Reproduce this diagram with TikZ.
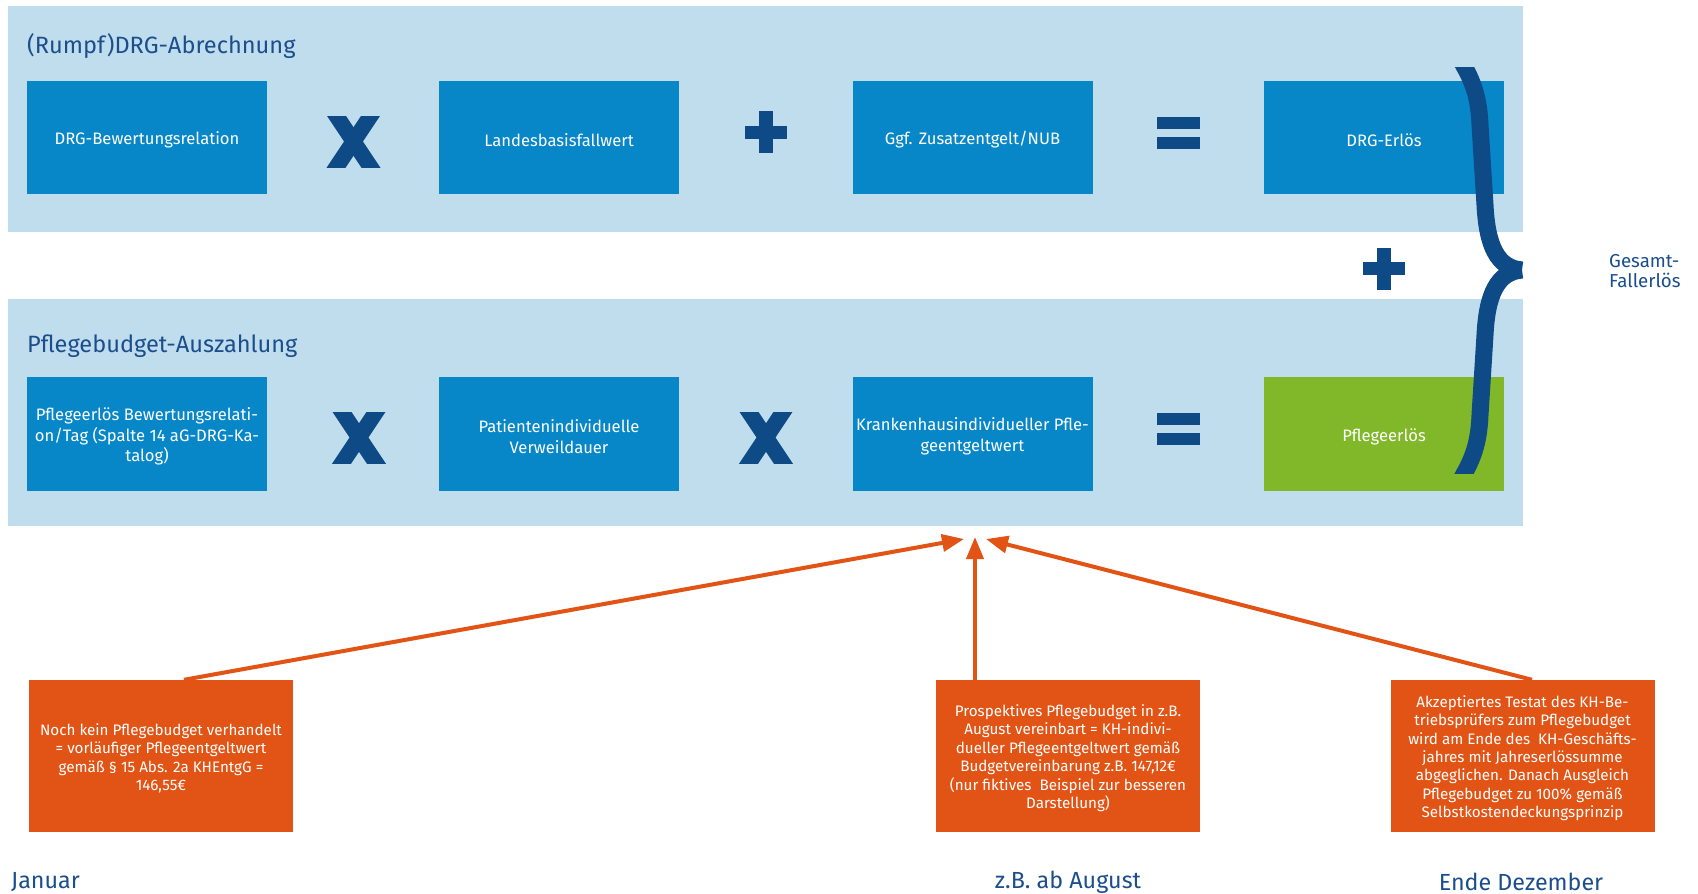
\documentclass[tikz,border=0pt]{standalone}
\usepackage{fontspec}
\setmainfont{Fira Sans}
\usetikzlibrary{arrows.meta}
\definecolor{band}{HTML}{C0DDED}
\definecolor{boxblue}{HTML}{0787C8}
\definecolor{navy}{HTML}{0E4A86}
\definecolor{leaf}{HTML}{81B82A}
\definecolor{rust}{HTML}{E25415}
\definecolor{titlecol}{HTML}{1B4E8C}
\begin{document}
\begin{tikzpicture}[x=1pt,y=-1pt,
  bandbox/.style={fill=band},
  calcbox/.style={rectangle, fill=boxblue, minimum width=240pt, minimum height=113pt, inner sep=0pt},
  calctext/.style={text=white, align=center, inner sep=0pt, yshift=-2.5pt, font=\fontsize{16.6}{20.5}\selectfont},
  notebox/.style={rectangle, fill=rust, minimum width=264pt, minimum height=152pt, inner sep=0pt},
  notetext/.style={text=white, align=center, inner sep=0pt, yshift=-2.2pt, font=\fontsize{15.2}{18.4}\selectfont},
  headline/.style={anchor=west, text=titlecol, font=\fontsize{23.6}{28}\selectfont, inner sep=0pt},
  timelabel/.style={text=titlecol, font=\fontsize{23.3}{28}\selectfont, inner sep=0pt},
  feed/.style={draw=rust, line width=4pt, -{Triangle[length=22pt,width=17pt]}},
  opx/.pic={
    \begin{scope}
      \clip (-27,-25.5) rectangle (27,25.5);
      \draw[navy, line width=15.8pt] (-22.1,-33.2) -- (22.1,33.2);
      \draw[navy, line width=15.8pt] (22.1,-33.2) -- (-22.1,33.2);
    \end{scope}
  },
  opplus/.pic={
    \fill[navy] (-21,-6.5) rectangle (21,6.5);
    \fill[navy] (-7,-21) rectangle (7,21);
  },
  opeq/.pic={
    \fill[navy] (-21.5,-16) rectangle (21.5,-4);
    \fill[navy] (-21.5,4) rectangle (21.5,16);
  }
]
\useasboundingbox (0,0) rectangle (1698,894);
\fill[white] (0,0) rectangle (1698,894);

% bands
\path[bandbox] (8,6) rectangle (1523,232);
\path[bandbox] (8,299) rectangle (1523,526);

\node[headline] (h1) at (27,46) {(Rumpf)DRG-Abrechnung};
\node[headline] (h2) at (27,346) {Pflegebudget-Auszahlung};

% row 1
\node[calcbox, label={[calctext]center:DRG-Bewertungsrelation}] (a1) at (147,137.5) {};
\node[calcbox, label={[calctext]center:Landesbasisfallwert}] (a2) at (559,137.5) {};
\node[calcbox, label={[calctext]center:Ggf. Zusatzentgelt/NUB}] (a3) at (972.5,137.5) {};
\node[calcbox, label={[calctext]center:DRG-Erlös}] (a4) at (1384,137.5) {};
\pic (x1) at (353.5,141.5) {opx};
\pic (p1) at (766,132) {opplus};
\pic (e1) at (1178.5,133) {opeq};

% between
\pic (p2) at (1384,268.6) {opplus};

% row 2
\node[calcbox, minimum height=114pt, label={[calctext]center:Pflegeerlös Bewertungsrelati-\\on/Tag (Spalte 14 aG-DRG-Ka-\\talog)}] (b1) at (147,434) {};
\node[calcbox, minimum height=114pt, label={[calctext]center:Patientenindividuelle\\Verweildauer}] (b2) at (559,434) {};
\node[calcbox, minimum height=114pt, label={[calctext]center:Krankenhausindividueller Pfle-\\geentgeltwert}] (b3) at (972.5,434) {};
\node[calcbox, minimum height=114pt, fill=leaf, label={[calctext]center:Pflegeerlös}] (b4) at (1384,434) {};
\pic (x2) at (359,437.5) {opx};
\pic (x3) at (766,437.5) {opx};
\pic (e2) at (1178.5,429) {opeq};

% brace
\begin{scope}
  \clip (1440,67) rectangle (1540,473);
  \draw[navy, line width=17pt] (1458,55) -- (1464.5,67) .. controls (1474,84) and (1479,100) .. (1480,125) -- (1485,205) .. controls (1487,245) and (1497,268) .. (1522,270);
  \draw[navy, line width=17pt] (1458,485) -- (1464.5,473) .. controls (1474,456) and (1479,440) .. (1480,415) -- (1485,335) .. controls (1487,295) and (1497,272) .. (1522,270);
\end{scope}
\node[anchor=west, text=titlecol, align=left, inner sep=0pt, font=\fontsize{18.7}{20.6}\selectfont] (g) at (1609,271) {Gesamt-\\Fallerlös};

% notes
\node[notebox, label={[notetext]center:{Noch kein Pflegebudget verhandelt\\= vorläufiger Pflegeentgeltwert\\gemäß § 15 Abs. 2a KHEntgG =\\146,55€}}] (o1) at (161,756) {};
\node[notebox, label={[notetext]center:{Prospektives Pflegebudget in z.B.\\August vereinbart = KH-indivi-\\dueller Pflegeentgeltwert gemäß\\Budgetvereinbarung z.B. 147,12€\\(nur fiktives\ \ Beispiel zur besseren\\Darstellung)}}] (o2) at (1068,756) {};
\node[notebox, label={[notetext]center:{Akzeptiertes Testat des KH-Be-\\triebsprüfers zum Pflegebudget\\wird am Ende des\ \ KH-Geschäfts-\\jahres mit Jahreserlössumme\\abgeglichen. Danach Ausgleich\\Pflegebudget zu 100\% gemäß\\Selbstkostendeckungsprinzip}}] (o3) at (1522.5,756) {};

% arrows
\coordinate (t1) at (964,539);
\coordinate (t2) at (975,537);
\coordinate (t3) at (986,539);
\draw[feed] ([xshift=23pt]o1.north) -- (t1);
\draw[feed] ([xshift=-93pt]o2.north) -- (t2);
\draw[feed] ([xshift=9.5pt]o3.north) -- (t3);

% timeline
\node[timelabel, anchor=west] (m1) at (11,882) {Januar};
\node[timelabel] (m2) at (1068,882) {z.B. ab August};
\node[timelabel] (m3) at (1521,882) {Ende Dezember};
\end{tikzpicture}
\end{document}
